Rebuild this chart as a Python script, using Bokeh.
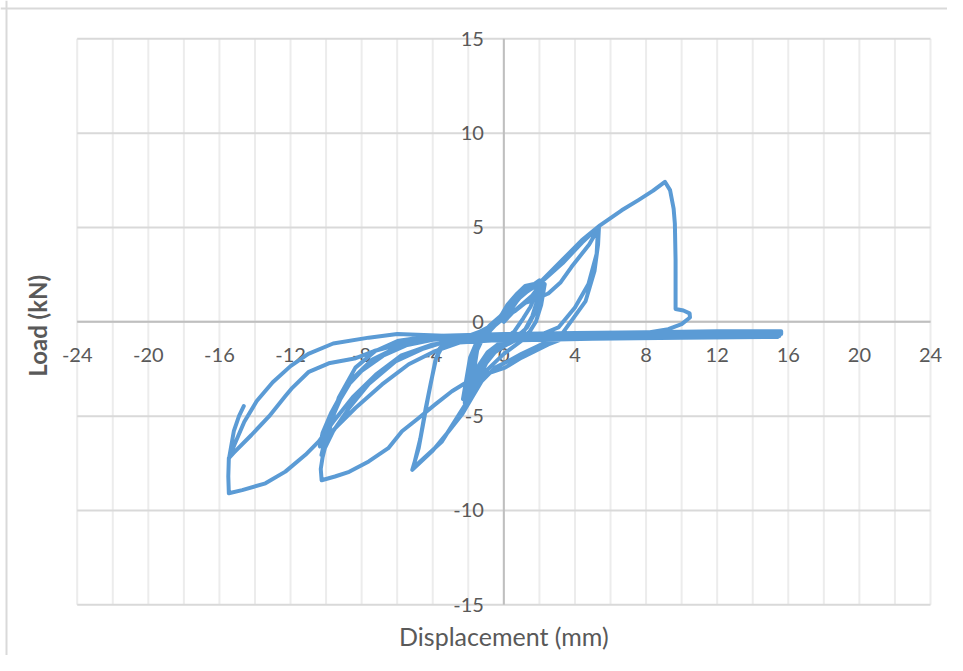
from bokeh.plotting import figure
from bokeh.models import Label, Range1d, ColumnDataSource, Span
from bokeh.embed import file_html
from bokeh.resources import INLINE

# ---------------- data (displacement in mm, load in kN) ----------------
x_tick_values = [-24, -20, -16, -12, -8, -4, 0, 4, 8, 12, 16, 20, 24]
x_tick_labels = ["-24", "-20", "-16", "-12", "-8", "-4", "0", "4", "8", "12", "16", "20", "24"]
x_grid_values = [-24, -22, -20, -18, -16, -14, -12, -10, -8, -6, -4, -2, 0,
                 2, 4, 6, 8, 10, 12, 14, 16, 18, 20, 22, 24]
y_tick_values = [-15, -10, -5, 0, 5, 10, 15]
y_tick_labels = ["-15", "-10", "-5", "0", "5", "10", "15"]

# +/- 2 mm cycles
c2_disp = [0.0, 0.5, 1.0, 1.6, 2.0, 2.1, 1.9, 1.6, 1.2, 0.6, -0.3, -1.0, -1.5, -1.9, -2.2,
           -2.0, -1.8, -1.4, -0.8, -0.2,
           0.4, 0.9, 1.4, 1.9, 2.2, 2.0, 1.7, 1.3, 0.8, 0.0, -0.8, -1.3, -1.7, -2.3,
           -2.1, -1.9, -1.5, -0.9, -0.3,
           0.2, 0.7, 1.2, 1.7, 2.0, 1.8, 1.5, 1.1, 0.6, -0.2, -0.9, -1.4, -1.8, -2.1,
           -1.9, -1.6, -1.2, -0.6, 0.0,
           0.3, 0.8, 1.3, 1.8, 2.3, 2.1, 1.8, 1.4, 0.6, -0.4, -1.0, -1.5, -1.9,
           -1.7, -1.5, -1.1, -0.5, 0.0, 0.6, 1.2]
c2_load = [0.0, 0.5, 0.9, 1.4, 1.9, 2.1, 1.2, 0.3, -0.4, -0.9, -1.3, -1.8, -2.6, -3.6, -4.3,
           -3.0, -1.8, -0.8, -0.2, 0.3,
           1.0, 1.5, 1.8, 2.1, 2.05, 1.3, 0.4, -0.3, -0.8, -1.3, -1.8, -2.6, -3.5, -4.1,
           -3.0, -1.9, -1.0, -0.4, 0.1,
           0.9, 1.45, 1.9, 2.0, 2.2, 1.5, 0.8, 0.2, -0.5, -1.1, -1.6, -2.3, -3.1, -3.8,
           -2.8, -1.7, -0.9, -0.3, 0.3,
           0.7, 1.2, 1.6, 1.9, 2.0, 0.9, 0.0, -0.6, -1.0, -1.5, -2.2, -3.2, -4.0,
           -2.7, -1.5, -0.7, -0.2, 0.2, 0.55, 1.0]

# +/- 5 mm cycles
c5_disp = [1.5, 2.5, 3.2, 3.8, 4.8, 5.35, 5.3, 5.1, 4.6, 3.8, 3.3, 2.1, 1.0, 0.26, -0.49, -1.24,
           -1.8, -2.36, -3.1, -4.04, -5.15, -4.79, -4.51, -4.23, -3.86, -3.6, -3.0, -2.0, -1.0, 0.0,
           1.0, 2.1, 3.3, 4.4, 5.3, 5.22, 4.76, 4.0, 3.07, 2.13, 1.0, 0.0, -1.0, -2.17, -3.48, -5.1,
           -4.7, -4.4, -4.1, -3.8, -3.4, -2.5, -1.5, -0.5, 0.3]
c5_load = [1.1, 1.5, 2.1, 2.9, 4.1, 5.0, 4.1, 2.7, 1.1, 0.05, -0.6, -1.2, -1.7, -2.08, -2.43, -3.14,
           -4.03, -4.92, -5.8, -6.87, -7.85, -6.7, -5.27, -3.85, -2.08, -1.4, -1.0, -0.75, -0.4, 0.25,
           1.4, 2.1, 3.1, 4.2, 5.0, 3.6, 2.0, 0.76, -0.3, -0.66, -1.0, -1.7, -2.6, -4.38, -6.34, -7.75,
           -6.2, -4.6, -3.2, -1.9, -1.2, -0.85, -0.6, -0.1, 0.5]

# +10 mm excursion with failure, then first -10 mm cycle
c10_disp = [1.01, 2.13, 3.26, 4.38, 5.41, 6.63, 7.57, 8.4, 9.06, 9.35, 9.55, 9.62, 9.66, 9.66, 10.1,
            10.45, 10.47, 10.0, 9.25, 8.13, 6.0, 4.0, 3.3, 2.5, 1.0, 0.07, -1.05, -1.98, -2.92, -3.86,
            -4.79, -5.73, -6.5, -7.6, -8.7, -9.5, -10.25, -10.3, -10.2, -9.75, -9.29, -8.35, -7.23,
            -5.92, -4.04, -2.0, 0.0]
c10_load = [1.47, 2.18, 3.25, 4.32, 5.11, 5.91, 6.45, 6.95, 7.42, 6.98, 6.0, 5.2, 3.25, 0.68, 0.6,
            0.45, 0.23, -0.12, -0.39, -0.57, -0.68, -0.8, -0.9, -1.2, -1.9, -2.43, -2.79, -3.14, -3.68,
            -4.38, -5.1, -5.8, -6.7, -7.4, -7.95, -8.2, -8.4, -7.8, -7.2, -5.5, -4.03, -2.43, -1.55,
            -1.0, -0.75, -0.7, -0.65]

# post-failure cycles: flat positive excursions and repeated -10 mm cycles
post_disp = [4.0, 8.0, 12.0, 15.6, 15.6, 12.0, 8.0, 4.0, 0.0, -3.1, -4.6, -6.1, -7.6, -8.73, -9.6,
             -10.26, -10.1, -9.8, -9.2, -8.5, -7.4, -6.0, -4.5, -2.5, 0.0, 5.0, 10.0, 15.5, 15.5,
             10.0, 5.0, 0.0, -2.5, -3.86, -5.35, -6.85, -8.35, -9.85, -10.35, -10.2, -9.7, -9.0,
             -8.0, -6.8, -5.5, -4.0, -2.0, 0.0, 5.0, 10.0, 15.4, 15.4, 10.0, 5.0, 0.0]
post_load = [-0.6, -0.55, -0.5, -0.5, -0.65, -0.7, -0.72, -0.8, -0.9, -1.0, -1.45, -2.1, -3.3, -4.6,
             -5.8, -7.06, -6.4, -5.4, -4.1, -3.0, -2.0, -1.35, -0.95, -0.8, -0.75, -0.7, -0.65, -0.6,
             -0.75, -0.8, -0.85, -0.95, -1.1, -1.55, -2.25, -3.32, -4.57, -5.98, -6.6, -5.9, -4.8,
             -3.6, -2.6, -1.8, -1.25, -0.95, -0.85, -0.8, -0.75, -0.7, -0.65, -0.8, -0.85, -0.9, -1.0]

# -15 mm cycles
c15_disp = [-2.0, -4.0, -5.8, -7.2, -8.5, -9.6, -10.41, -11.16, -12.29, -13.41, -14.72, -15.47, -15.5,
            -15.47, -15.2, -14.2, -13.2, -12.3, -11.9, -10.97, -9.85, -8.4, -7.3, -5.5, -3.5, 0.0,
            5.0, 10.0, 15.5, 15.5, 10.0, 5.0, 0.0, -3.0, -6.0, -7.6, -9.6, -11.0, -12.0, -13.0,
            -13.9, -14.6, -15.15, -15.45, -15.19, -14.9, -14.63]
c15_load = [-0.95, -1.2, -1.8, -2.8, -4.0, -5.3, -6.34, -7.05, -7.94, -8.56, -8.92, -9.09, -8.2,
            -7.23, -6.95, -6.0, -5.0, -3.95, -3.5, -2.65, -2.2, -1.95, -1.55, -1.1, -0.85, -0.75,
            -0.65, -0.6, -0.55, -0.7, -0.75, -0.8, -0.85, -0.75, -0.65, -0.84, -1.15, -1.7, -2.35,
            -3.2, -4.2, -5.3, -6.5, -7.2, -5.8, -5.0, -4.47]

disp = c2_disp + c5_disp + c10_disp + post_disp + c15_disp
load = c2_load + c5_load + c10_load + post_load + c15_load

# ---------------- figure ----------------
TEXT = "#595959"
FONT = "Lato"
X_MIN, X_MAX = x_tick_values[0], x_tick_values[-1]
Y_MIN, Y_MAX = y_tick_values[0], y_tick_values[-1]

W, H = 947, 655
# plot box [-24,24]x[-15,15] occupies pixels 76.7..930 (x) and 38.3..604.3 (y)
PX_X = (930.0 - 76.7) / (X_MAX - X_MIN)
PX_Y = (604.3 - 38.3) / (Y_MAX - Y_MIN)
x0 = X_MIN - 76.7 / PX_X
x1 = X_MAX + (W - 930.0) / PX_X
y1 = Y_MAX + 38.3 / PX_Y
y0 = Y_MIN - (H - 604.3) / PX_Y

p = figure(width=W, height=H,
           x_range=Range1d(x0, x1), y_range=Range1d(y0, y1),
           output_backend="svg", toolbar_location=None,
           x_axis_location=None, y_axis_location=None,
           min_border=0)
p.outline_line_color = None
p.xgrid.visible = False
p.ygrid.visible = False
p.background_fill_color = "white"
p.border_fill_color = "white"

# chart-area border (left and top edges)
p.add_layout(Span(location=x0 + 6 / PX_X, dimension="height",
                  line_color="#d9d9d9", line_width=2, level="underlay"))
p.add_layout(Span(location=y1 - 8 / PX_Y, dimension="width",
                  line_color="#d9d9d9", line_width=2, level="underlay"))

# gridlines
p.segment(x0=x_grid_values, y0=Y_MIN, x1=x_grid_values, y1=Y_MAX,
          line_color="#ececec", line_width=2, level="underlay")
p.segment(x0=X_MIN, y0=y_tick_values, x1=X_MAX, y1=y_tick_values,
          line_color="#d9d9d9", line_width=2, level="underlay")
# axis lines crossing at zero
p.segment(x0=[0, X_MIN], y0=[Y_MIN, 0], x1=[0, X_MAX], y1=[Y_MAX, 0],
          line_color="#bfbfbf", line_width=2, level="underlay")

# tick labels
p.text(x=x_tick_values, y=0, text=x_tick_labels, y_offset=33,
       text_align="center", text_baseline="middle",
       text_font_size="20px", text_color=TEXT, text_font={"value": FONT})
p.text(x=0, y=y_tick_values, text=y_tick_labels, x_offset=-20,
       text_align="right", text_baseline="middle",
       text_font_size="20px", text_color=TEXT, text_font={"value": FONT})

# the load-displacement curve
src = ColumnDataSource(data=dict(disp=disp, load=load))
p.line("disp", "load", source=src, line_color="#5b9bd5", line_width=4,
       line_join="round", line_cap="round")

# axis titles
p.add_layout(Label(x=0, y=Y_MIN, y_offset=-31, text="Displacement (mm)",
                   text_align="center", text_baseline="alphabetic",
                   text_font=FONT, text_font_size="25px", text_color=TEXT))
p.add_layout(Label(x=X_MIN, y=0, x_offset=-40, y_offset=-4, text="Load (kN)", angle=1.5708,
                   text_align="center", text_baseline="alphabetic",
                   text_font=FONT, text_font_size="24px", text_font_style="bold",
                   text_color=TEXT))

open("out.html", "w").write(file_html(p, INLINE))
